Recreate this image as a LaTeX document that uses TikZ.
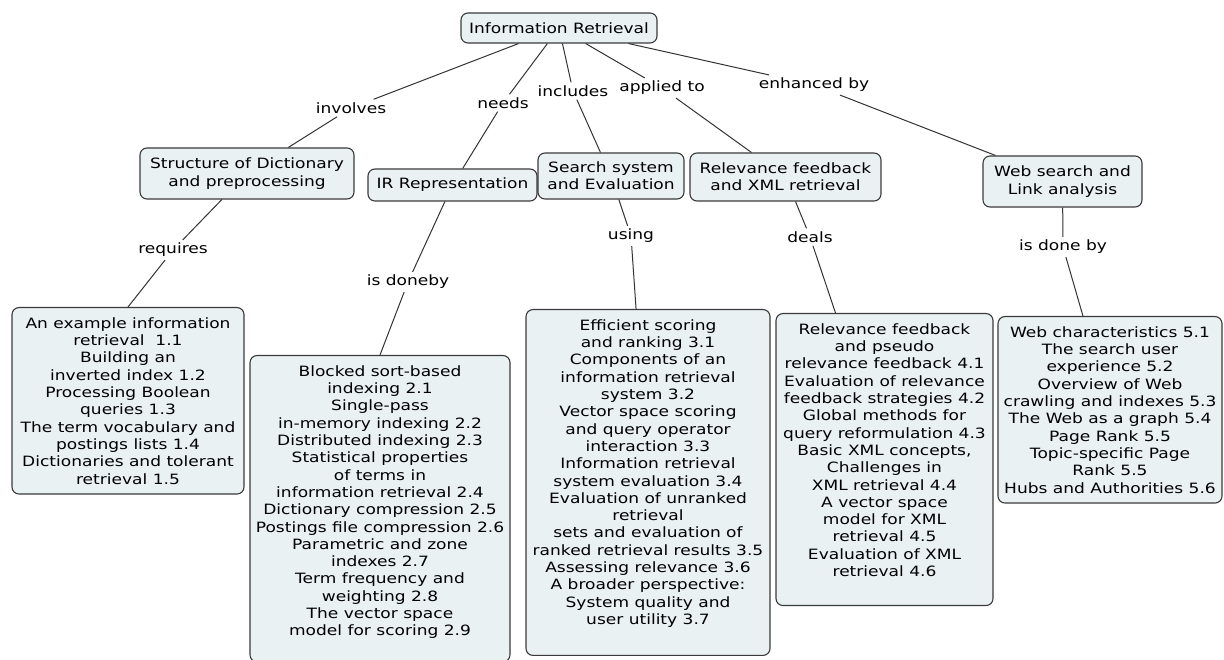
\documentclass[tikz,border=0pt]{standalone}
\usepackage{fontspec}
\newfontfamily\cmapfont{DejaVu Sans}[FakeStretch=1.2]
\definecolor{boxfill}{HTML}{EAF1F3}
\definecolor{boxline}{HTML}{3A3A3A}
\definecolor{linkline}{HTML}{333333}

\begin{document}
\begin{tikzpicture}[
 x=1pt,y=-1pt,
 every node/.style={font=\cmapfont\fontsize{14.2pt}{17.3pt}\selectfont,align=center},
 concept/.style={draw=boxline,fill=boxfill,rounded corners=7pt,line width=1.1pt,inner sep=4pt},
 topics/.style={concept,anchor=north,inner ysep=10pt},
 lbl/.style={inner sep=3pt},
 link/.style={draw=linkline,line width=1pt}
]
 \useasboundingbox (0,0) rectangle (1224,660);
 \node[concept,minimum width=196pt,minimum height=30pt] (ir) at (559,28) {Information Retrieval};
 \node[concept,minimum width=214pt,minimum height=51pt] (dict) at (247,173.5)
   {Structure of Dictionary\\and preprocessing};
 \node[concept,minimum width=169pt,minimum height=32pt] (rep) at (452.5,185) {IR Representation};
 \node[concept,minimum width=146pt,minimum height=46pt] (search) at (611,176)
   {Search system\\and Evaluation};
 \node[concept,minimum width=191pt,minimum height=48pt] (rel) at (785.5,177)
   {Relevance feedback\\and XML retrieval};
 \node[concept,minimum width=159pt,minimum height=51pt] (web) at (1062.5,181.5)
   {Web search and\\Link analysis};

 \node[lbl] (involves) at (351,108) {involves};
 \node[lbl] (needs) at (503,103) {needs};
 \node[lbl] (includes) at (573,91) {includes};
 \node[lbl] (applied) at (662,88) {applied to};
 \node[lbl] (enhanced) at (814,85) {enhanced by};
 \node[lbl] (requires) at (173,250) {requires};
 \node[lbl] (doneby) at (408,282) {is doneby};
 \node[lbl] (using) at (631,236) {using};
 \node[lbl] (deals) at (810,237) {deals};
 \node[lbl] (isdoneby) at (1063,247) {is done by};

 \node[topics,minimum width=232pt,text depth=0pt] (c1) at (128,307)
   {An example information\\retrieval~~1.1\\Building an\\inverted index 1.2\\Processing Boolean\\queries 1.3\\The term vocabulary and\\postings lists 1.4\\Dictionaries and tolerant\\retrieval 1.5};
 \node[topics,minimum width=260pt,text depth=16pt] (c2) at (380,355)
   {Blocked sort-based\\indexing 2.1\\Single-pass\\in-memory indexing 2.2\\Distributed indexing 2.3\\Statistical properties\\of terms in\\information retrieval 2.4\\Dictionary compression 2.5\\Postings file compression 2.6\\Parametric and zone\\indexes 2.7\\Term frequency and\\weighting 2.8\\The vector space\\model for scoring 2.9};
 \node[topics,minimum width=244pt,text depth=21pt] (c3) at (648,309)
   {Efficient scoring\\and ranking 3.1\\Components of an\\information retrieval\\system 3.2\\Vector space scoring\\and query operator\\interaction 3.3\\Information retrieval\\system evaluation 3.4\\Evaluation of unranked\\retrieval\\sets and evaluation of\\ranked retrieval results 3.5\\Assessing relevance 3.6\\A broader perspective:\\System quality and\\user utility 3.7};
 \node[topics,minimum width=217pt,text depth=19pt] (c4) at (884.5,313)
   {Relevance feedback\\and pseudo\\relevance feedback 4.1\\Evaluation of relevance\\feedback strategies 4.2\\Global methods for\\query reformulation 4.3\\Basic XML concepts,\\Challenges in\\XML retrieval 4.4\\A vector space\\model for XML\\retrieval 4.5\\Evaluation of XML\\retrieval 4.6};
 \node[topics,minimum width=224pt,text depth=0pt] (c5) at (1110,316)
   {Web characteristics 5.1\\The search user\\experience 5.2\\Overview of Web\\crawling and indexes 5.3\\The Web as a graph 5.4\\Page Rank 5.5\\Topic-specific Page\\Rank 5.5\\Hubs and Authorities 5.6};

 \draw[link] (ir) -- (involves) -- (dict);
 \draw[link] (ir) -- (needs) -- (rep);
 \draw[link] (ir) -- (includes) -- (search);
 \draw[link] (ir) -- (applied) -- (rel);
 \draw[link] (ir) -- (enhanced) -- (web);
 \draw[link] (dict) -- (requires) -- (c1.north);
 \draw[link] (rep) -- (doneby) -- (c2.north);
 \draw[link] (search) -- (using) -- (c3);
 \draw[link] (rel) -- (deals) -- (c4);
 \draw[link] (web) -- (isdoneby) -- (c5);
\end{tikzpicture}
\end{document}
